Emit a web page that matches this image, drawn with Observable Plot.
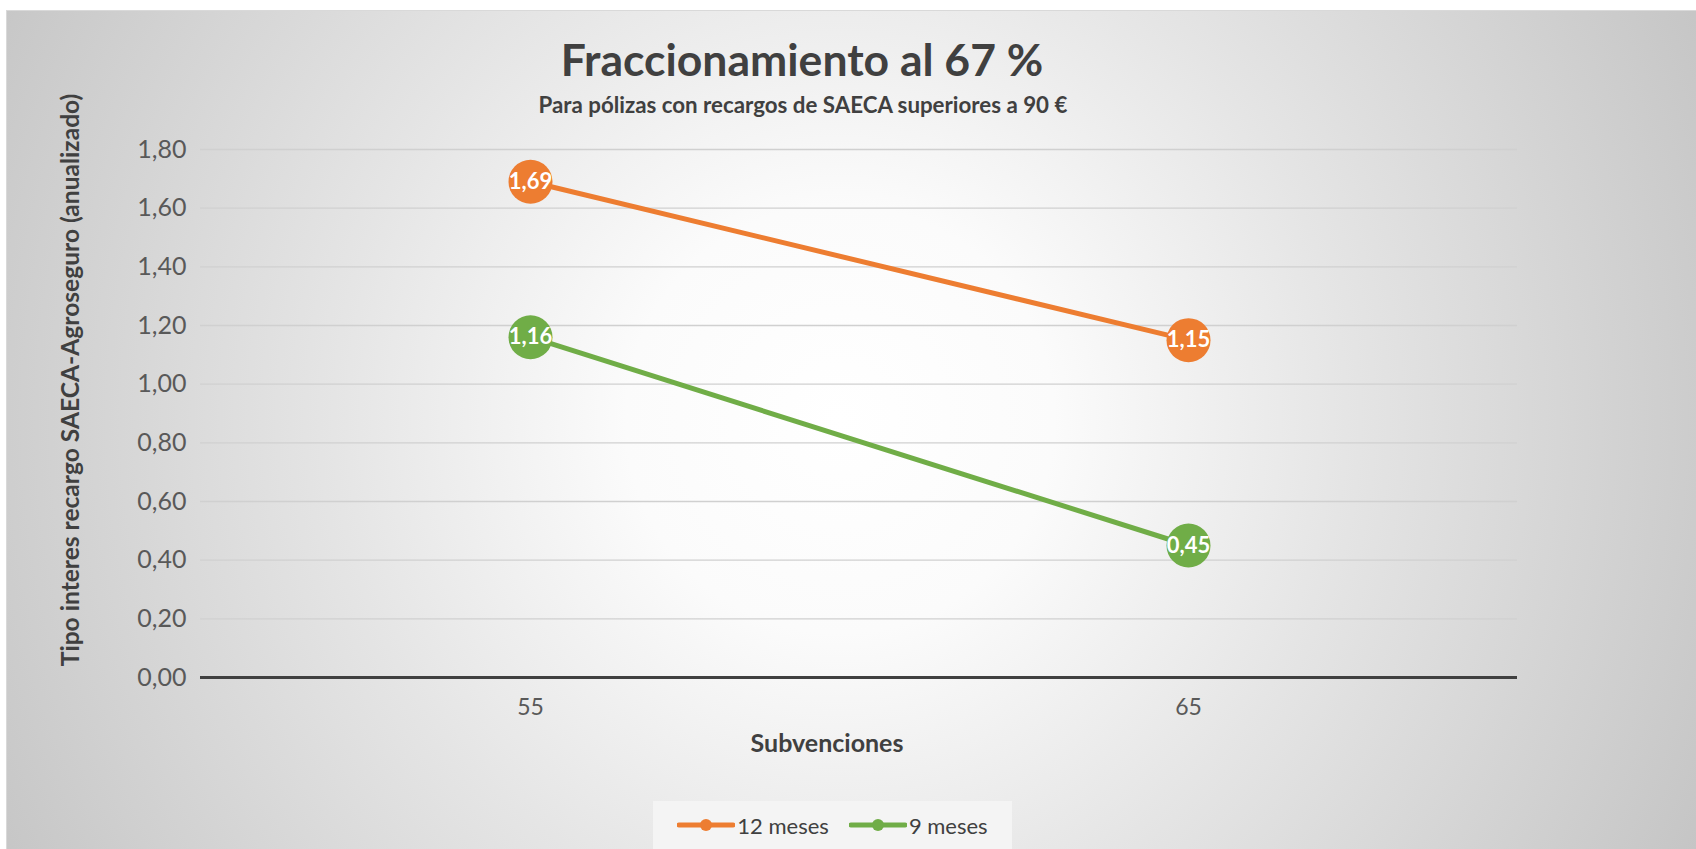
<!DOCTYPE html>
<html>
<head>
<meta charset="utf-8">
<script src="https://cdn.jsdelivr.net/npm/d3@7"></script>
<script src="https://cdn.jsdelivr.net/npm/@observablehq/plot@0.6"></script>
<style>
  html, body { margin: 0; padding: 0; background: #ffffff; }
  #page { position: relative; width: 1696px; height: 849px; overflow: hidden; background: #ffffff; font-family: Lato, "Open Sans", sans-serif; }
  #frame { position: absolute; left: 6px; top: 10px; width: 1700px; height: 850px; border-left: 1px solid #d9d9d9; border-top: 1px solid #d9d9d9;
    background: radial-gradient(circle farthest-corner at 49% 48%, #ffffff 0%, #fbfbfb 22%, #e5e5e5 52%, #c4c4c4 100%); }
  #title { position: absolute; left: 0; width: 1604px; top: 34px; text-align: center; font-size: 44.5px; font-weight: 700; color: #404040; line-height: 50px; }
  #subtitle { position: absolute; left: 0; width: 1606px; top: 92px; text-align: center; font-size: 22.3px; font-weight: 700; color: #404040; line-height: 26px; }
  #ytitle { position: absolute; left: -230px; width: 600px; top: 365px; height: 30px; line-height: 30px; text-align: center; font-size: 24.6px; font-weight: 700; color: #404040; transform: rotate(-90deg); transform-origin: 50% 50%; white-space: nowrap; }
  #chart { position: absolute; left: 0; top: 120px; }
  #legend { position: absolute; left: 653px; top: 801px; width: 359px; height: 48px; background: #f4f4f4; display: flex; align-items: center; justify-content: center; gap: 20px; font-size: 22px; color: #404040; }
  .item { display: flex; align-items: center; gap: 2px; }
</style>
</head>
<body>
<div id="page">
  <div id="frame"></div>
  <div id="title"></div>
  <div id="subtitle"></div>
  <div id="chart"></div>
  <div id="ytitle"></div>
  <div id="legend"></div>
</div>
<script>
const titleText = "Fraccionamiento al 67 %";
const subtitleText = "Para pólizas con recargos de SAECA superiores a 90 €";
const yTitle = "Tipo interes recargo SAECA-Agroseguro (anualizado)";
const xTitle = "Subvenciones";
const categories = ["55", "65"];
const seriesNames = ["12 meses", "9 meses"];
const values12 = [1.69, 1.15];
const values9 = [1.16, 0.45];
const seriesColors = ["#ED7D31", "#70AD47"];
const yTicks = [0, 0.2, 0.4, 0.6, 0.8, 1.0, 1.2, 1.4, 1.6, 1.8];

const fmt = d => d.toFixed(2).replace(".", ",");

const data = [];
categories.forEach((c, i) => {
  data.push({serie: seriesNames[0], sub: c, value: values12[i]});
});
categories.forEach((c, i) => {
  data.push({serie: seriesNames[1], sub: c, value: values9[i]});
});

document.getElementById("title").textContent = titleText;
document.getElementById("subtitle").textContent = subtitleText;
document.getElementById("ytitle").textContent = yTitle;

const chart = Plot.plot({
  width: 1696,
  height: 670,
  marginLeft: 200,
  marginRight: 179,
  marginTop: 29,
  marginBottom: 113,
  style: {background: "transparent", fontFamily: "Lato, 'Open Sans', sans-serif", overflow: "visible"},
  x: {type: "point", domain: categories, padding: 0.5, label: null},
  y: {domain: [0, 1.8], label: null},
  color: {domain: seriesNames, range: seriesColors},
  marks: [
    Plot.gridY(yTicks, {stroke: "#d0d0d0", strokeOpacity: 1, strokeWidth: 1.3}),
    Plot.axisY({ticks: yTicks, tickSize: 0, tickPadding: 14, tickFormat: fmt, fontSize: 25, fill: "#595959", label: null}),
    Plot.axisX({tickSize: 0, tickPadding: 21, fontSize: 23, fill: "#595959", label: null}),
    Plot.ruleY([0], {stroke: "#404040", strokeWidth: 3}),
    Plot.line(data, {x: "sub", y: "value", z: "serie", stroke: "serie", strokeWidth: 5}),
    Plot.dot(data, {x: "sub", y: "value", fill: "serie", r: 22, stroke: null}),
    Plot.text(data, {x: "sub", y: "value", text: d => fmt(d.value), fill: "white", fontWeight: "bold", fontSize: 22}),
    Plot.text([xTitle], {text: d => d, frameAnchor: "bottom", dx: -32, dy: 74, fontWeight: "bold", fontSize: 25, fill: "#404040"})
  ]
});
document.getElementById("chart").appendChild(chart);

const legend = document.getElementById("legend");
seriesNames.forEach((name, i) => {
  const item = document.createElement("div");
  item.className = "item";
  const svg = d3.create("svg").attr("width", 58).attr("height", 14);
  svg.append("line").attr("x1", 2).attr("x2", 56).attr("y1", 7).attr("y2", 7)
    .attr("stroke", seriesColors[i]).attr("stroke-width", 5).attr("stroke-linecap", "round");
  svg.append("circle").attr("cx", 29).attr("cy", 7).attr("r", 6).attr("fill", seriesColors[i]);
  item.appendChild(svg.node());
  const span = document.createElement("span");
  span.textContent = name;
  item.appendChild(span);
  legend.appendChild(item);
});
</script>
</body>
</html>
